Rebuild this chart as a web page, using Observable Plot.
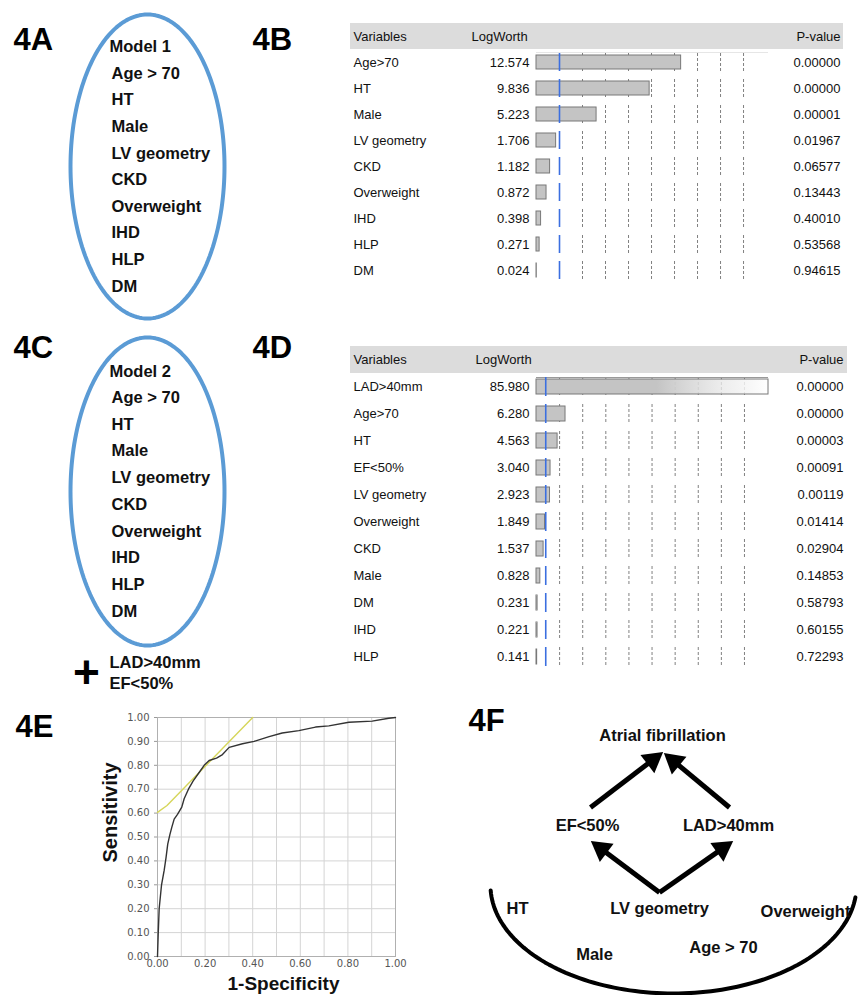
<!DOCTYPE html>
<html><head><meta charset="utf-8">
<script src="https://cdn.jsdelivr.net/npm/d3@7"></script>
<script src="https://cdn.jsdelivr.net/npm/@observablehq/plot@0.6"></script>
<style>
html,body{margin:0;padding:0;background:#fff;overflow:hidden;}
#fig{position:relative;width:862px;height:995px;overflow:hidden;background:#fff;}
#fig > div{position:absolute;}
#fig svg{overflow:visible;display:block;max-width:none;}
</style></head><body><div id="fig"></div>
<script>
// ---------------- DATA ----------------
const model1Vars = ["Age>70","HT","Male","LV geometry","CKD","Overweight","IHD","HLP","DM"];
const model1LogWorth = [12.574,9.836,5.223,1.706,1.182,0.872,0.398,0.271,0.024];
const model1PValue = ["0.00000","0.00000","0.00001","0.01967","0.06577","0.13443","0.40010","0.53568","0.94615"];
const model1Ticks = [4,6,8,10,12,14,16,18];

const model2Vars = ["LAD>40mm","Age>70","HT","EF<50%","LV geometry","Overweight","CKD","Male","DM","IHD","HLP"];
const model2LogWorth = [85.980,6.280,4.563,3.040,2.923,1.849,1.537,0.828,0.231,0.221,0.141];
const model2PValue = ["0.00000","0.00000","0.00003","0.00091","0.00119","0.01414","0.02904","0.14853","0.58793","0.60155","0.72293"];
const model2Ticks = [5,10,15,20,25,30,35,40,45];

const ovalItems = ["Age > 70","HT","Male","LV geometry","CKD","Overweight","IHD","HLP","DM"];
const modelTitles = ["Model 1","Model 2"];
const model2Extra = ["LAD>40mm","EF<50%"];

const rocFpr = [0,0.003,0.007,0.017,0.028,0.036,0.043,0.052,0.060,0.070,0.084,0.102,0.112,0.130,0.150,0.175,0.196,0.217,0.248,0.273,0.301,0.357,0.406,0.469,0.524,0.594,0.664,0.720,0.804,0.902,0.972,1.000];
const rocTpr = [0,0.095,0.200,0.300,0.360,0.415,0.470,0.510,0.540,0.575,0.595,0.625,0.660,0.700,0.735,0.770,0.800,0.820,0.830,0.845,0.875,0.890,0.900,0.920,0.935,0.945,0.960,0.965,0.980,0.985,0.997,1.000];
const tangentFpr = [0,0.04,0.40];
const tangentTpr = [0.603,0.632,1.0];
const rocGridTicks = [0,0.1,0.2,0.3,0.4,0.5,0.6,0.7,0.8,0.9,1.0];
const rocXLabelTicks = [0,0.2,0.4,0.6,0.8,1.0];
const rocAxisTitles = ["Sensitivity","1-Specificity"];

const panelLabels = ["4A","4B","4C","4D","4E","4F"];
const pathNodes = ["Atrial fibrillation","EF<50%","LAD>40mm","LV geometry","HT","Overweight","Male","Age > 70"];

// ---------------- LAYOUT (pixels, not data) ----------------
const FONT = '"Liberation Sans", Arial, sans-serif';
const L = {
  panel: [[13,40],[252,40],[13,347.5],[252,347.5],[15,726.5],[468,721]],
  ovalA: {cx:147, cy:166, rx:77, ry:152, titleX:109, titleY:46, textX:111, firstY:73, step:26.6},
  ovalC: {cx:147, cy:491, rx:77, ry:154, titleX:109, titleY:371, textX:111, firstY:397, step:26.75},
  extraX:109, extraY:[662,683], plus:[86,673],
  nodes: [[662,735],[587,825],[728,825],[659,908],[517,908],[805,911],[594,954],[723,947]],
  arrows: [[590,807,662,752],[729,807,664,753],[659,892,591,841],[659,892,732,841]],
  arc: {cx:673, cy:885, rx:183, ry:108, t0:0.11, t1:Math.PI-0.046},
  rocTitles: [[110,812,-90,20],[283,983,0,19]]
};

const fig = document.getElementById("fig");
function place(node, left, top, w, h) {
  const d = document.createElement("div");
  d.style.left = left + "px"; d.style.top = top + "px";
  d.style.width = w + "px"; d.style.height = h + "px";
  d.appendChild(node); fig.appendChild(d);
}

// ---------------- BACKGROUND DIAGRAMS (4A, 4C, 4F, labels) ----------------
function ellipsePts(o) {
  return d3.range(0, 361, 2).map(a => {
    const t = a * Math.PI / 180;
    return {x: o.cx + o.rx * Math.cos(t), y: o.cy + o.ry * Math.sin(t)};
  });
}
const arcPts = d3.range(0, 101).map(k => {
  const t = L.arc.t0 + (L.arc.t1 - L.arc.t0) * k / 100;
  return {x: L.arc.cx + L.arc.rx * Math.cos(t), y: L.arc.cy + L.arc.ry * Math.sin(t)};
});
const HEAD = 12.4;
const arrows = L.arrows.map(([x1,y1,x2,y2]) => {
  const dx = x2 - x1, dy = y2 - y1, len = Math.hypot(dx, dy);
  const ux = dx / len, uy = dy / len;
  return {x1, y1, hx: x2 - ux * HEAD, hy: y2 - uy * HEAD, angle: Math.atan2(dx, -dy) * 180 / Math.PI};
});
function ovalRows(o, title) {
  return [{t: title, x: o.titleX, y: o.titleY}, ...ovalItems.map((t, i) => ({t, x: o.textX, y: o.firstY + i * o.step}))];
}
const ovalText = [...ovalRows(L.ovalA, modelTitles[0]), ...ovalRows(L.ovalC, modelTitles[1]),
  ...model2Extra.map((t, i) => ({t, x: L.extraX, y: L.extraY[i]}))];

const bg = Plot.plot({
  width: 862, height: 995, margin: 0,
  x: {type: "identity", axis: null}, y: {type: "identity", axis: null},
  style: {fontFamily: FONT, overflow: "visible", background: "white"},
  marks: [
    Plot.line(ellipsePts(L.ovalA), {x: "x", y: "y", stroke: "#5b9bd5", strokeWidth: 4}),
    Plot.line(ellipsePts(L.ovalC), {x: "x", y: "y", stroke: "#5b9bd5", strokeWidth: 4}),
    Plot.text(panelLabels, {x: (d, i) => L.panel[i][0], y: (d, i) => L.panel[i][1], text: d => d,
      textAnchor: "start", fontSize: 31, fontWeight: "bold", fill: "#000"}),
    Plot.text(ovalText, {x: "x", y: "y", text: "t", textAnchor: "start", fontSize: 16.5, fontWeight: "bold", fill: "#111"}),
    Plot.text(["+"], {x: () => L.plus[0], y: () => L.plus[1], text: d => d, fontSize: 46, fontWeight: "bold", fill: "#000"}),
    Plot.line(arcPts, {x: "x", y: "y", stroke: "#000", strokeWidth: 4}),
    Plot.link(arrows, {x1: "x1", y1: "y1", x2: "hx", y2: "hy", stroke: "#000", strokeWidth: 5}),
    Plot.dot(arrows, {x: "hx", y: "hy", symbol: "triangle", r: 8.5, rotate: "angle", fill: "#000", stroke: "none"}),
    Plot.text(pathNodes, {x: (d, i) => L.nodes[i][0], y: (d, i) => L.nodes[i][1], text: d => d,
      fontSize: 16.5, fontWeight: "bold", fill: "#111"}),
    Plot.text(rocAxisTitles.slice(0, 1), {x: () => L.rocTitles[0][0], y: () => L.rocTitles[0][1], rotate: L.rocTitles[0][2],
      text: d => d, fontSize: L.rocTitles[0][3], fontWeight: "bold", fill: "#111"}),
    Plot.text(rocAxisTitles.slice(1), {x: () => L.rocTitles[1][0], y: () => L.rocTitles[1][1], rotate: L.rocTitles[1][2],
      text: d => d, fontSize: L.rocTitles[1][3], fontWeight: "bold", fill: "#111"})
  ]
});
place(bg, 0, 0, 862, 995);

// ---------------- LOGWORTH TABLES (4B, 4D) ----------------
function logWorthTable(cfg) {
  const rows = cfg.vars.map((v, i) => ({v, value: cfg.values[i], p: cfg.pvals[i]}));
  const H = " header";
  const n = rows.length;
  const domain = [H, ...cfg.vars];
  const y0 = cfg.firstCenter - 1.5 * cfg.step, y1 = cfg.firstCenter + (n - 0.5) * cfg.step;
  const inRange = rows.filter(d => d.value <= cfg.xmax), over = rows.filter(d => d.value > cfg.xmax);
  const tickRows = rows.flatMap(r => cfg.ticks.map(t => ({v: r.v, t})));
  const gid = cfg.id + "-fade";
  const defs = () => {
    const el = d3.create("svg:defs");
    const g = el.append("linearGradient").attr("id", gid).attr("x1", 0).attr("x2", 1).attr("y1", 0).attr("y2", 0);
    g.append("stop").attr("offset", 0).attr("stop-color", "#c4c4c4");
    g.append("stop").attr("offset", 0.52).attr("stop-color", "#c4c4c4");
    g.append("stop").attr("offset", 0.8).attr("stop-color", "#e8e8e8").attr("stop-opacity", 0.8);
    g.append("stop").attr("offset", 1).attr("stop-color", "#ffffff").attr("stop-opacity", 0.9);
    return el.node();
  };
  return Plot.plot({
    width: 520, height: cfg.height, margin: 0,
    x: {domain: [0, cfg.xmax], range: [196, 428], axis: null},
    y: {type: "band", domain, range: [y0, y1], padding: 0, axis: null},
    style: {fontFamily: FONT, fontSize: "13px", color: "#111", overflow: "visible"},
    marks: [
      defs,
      Plot.barX([H], {y: d => d, x1: 0, x2: cfg.xmax, fill: "#dcdcdc", insetLeft: -186, insetRight: -cfg.headerRight}),
      Plot.text([H], {y: d => d, x: 0, text: () => "Variables", textAnchor: "start", dx: -183, fill: "#111"}),
      Plot.text([H], {y: d => d, x: 0, text: () => "LogWorth", textAnchor: "start", dx: cfg.lwDx, fill: "#111"}),
      Plot.text([H], {y: d => d, x: cfg.xmax, text: () => "P-value", textAnchor: "end", dx: cfg.pDx, fill: "#111"}),
      Plot.tickX(tickRows, {x: "t", y: "v", stroke: "#808080", strokeWidth: 1, strokeDasharray: "3,2", insetTop: 4, insetBottom: 4}),
      Plot.barX([cfg.vars[0]], {y: d => d, x1: 0, x2: cfg.xmax, fill: "#9a9a9a", insetTop: cfg.axisTop, insetBottom: cfg.step - cfg.axisTop - 1}),
      Plot.barX(inRange, {y: "v", x1: 0, x2: "value", fill: "#c4c4c4", stroke: "#787878", insetTop: 6, insetBottom: 6}),
      Plot.barX(over, {y: "v", x1: 0, x2: () => cfg.xmax, fill: `url(#${gid})`, stroke: "#787878", insetTop: 6, insetBottom: 6}),
      Plot.tickX(rows, {x: () => 2, y: "v", stroke: "#3b6fe0", strokeWidth: 1.6, insetTop: 4, insetBottom: 4}),
      Plot.text(rows, {x: 0, y: "v", text: "v", textAnchor: "start", dx: -183, fill: "#111"}),
      Plot.text(rows, {x: 0, y: "v", text: d => d.value.toFixed(3), textAnchor: "end", dx: -7, fill: "#111"}),
      Plot.text(rows, {x: cfg.xmax, y: "v", text: "p", textAnchor: "end", dx: cfg.pDx, fill: "#111"})
    ]
  });
}

place(logWorthTable({id: "t4b", vars: model1Vars, values: model1LogWorth, pvals: model1PValue, ticks: model1Ticks,
  xmax: 20.17, height: 275, firstCenter: 44, step: 26.75, headerRight: 75, lwDx: -65, pDx: 72, axisTop: 3}), 340, 15, 520, 275);

place(logWorthTable({id: "t4d", vars: model2Vars, values: model2LogWorth, pvals: model2PValue, ticks: model2Ticks,
  xmax: 50.2, height: 330, firstCenter: 46, step: 27, headerRight: 79, lwDx: -61, pDx: 75, axisTop: 4}), 340, 340, 520, 330);

// ---------------- ROC CURVE (4E) ----------------
const roc = rocFpr.map((x, i) => ({x, y: rocTpr[i]}));
const tangent = tangentFpr.map((x, i) => ({x, y: tangentTpr[i]}));
const fmt = d3.format(".2f");
const rocPlot = Plot.plot({
  width: 310, height: 295, marginLeft: 62, marginRight: 10, marginTop: 17, marginBottom: 39,
  x: {domain: [0, 1]}, y: {domain: [0, 1]},
  style: {fontFamily: '"DejaVu Sans", Verdana, sans-serif', fontSize: "10px", color: "#555", overflow: "visible"},
  marks: [
    Plot.gridX(rocGridTicks, {stroke: "#d4d4d4", strokeOpacity: 1}),
    Plot.gridY(rocGridTicks, {stroke: "#d4d4d4", strokeOpacity: 1}),
    Plot.frame({stroke: "#b0b0b0"}),
    Plot.axisX(rocXLabelTicks, {tickFormat: fmt, tickSize: 0, tickPadding: 3, label: null, fill: "#555"}),
    Plot.axisY(rocGridTicks, {tickFormat: fmt, tickSize: 3, tickPadding: 5, label: null, fill: "#555", stroke: "#999"}),
    Plot.line(tangent, {x: "x", y: "y", stroke: "#d6d65a", strokeWidth: 1.4}),
    Plot.line(roc, {x: "x", y: "y", stroke: "#333", strokeWidth: 1.4})
  ]
});
place(rocPlot, 95, 700, 310, 295);
</script></body></html>
